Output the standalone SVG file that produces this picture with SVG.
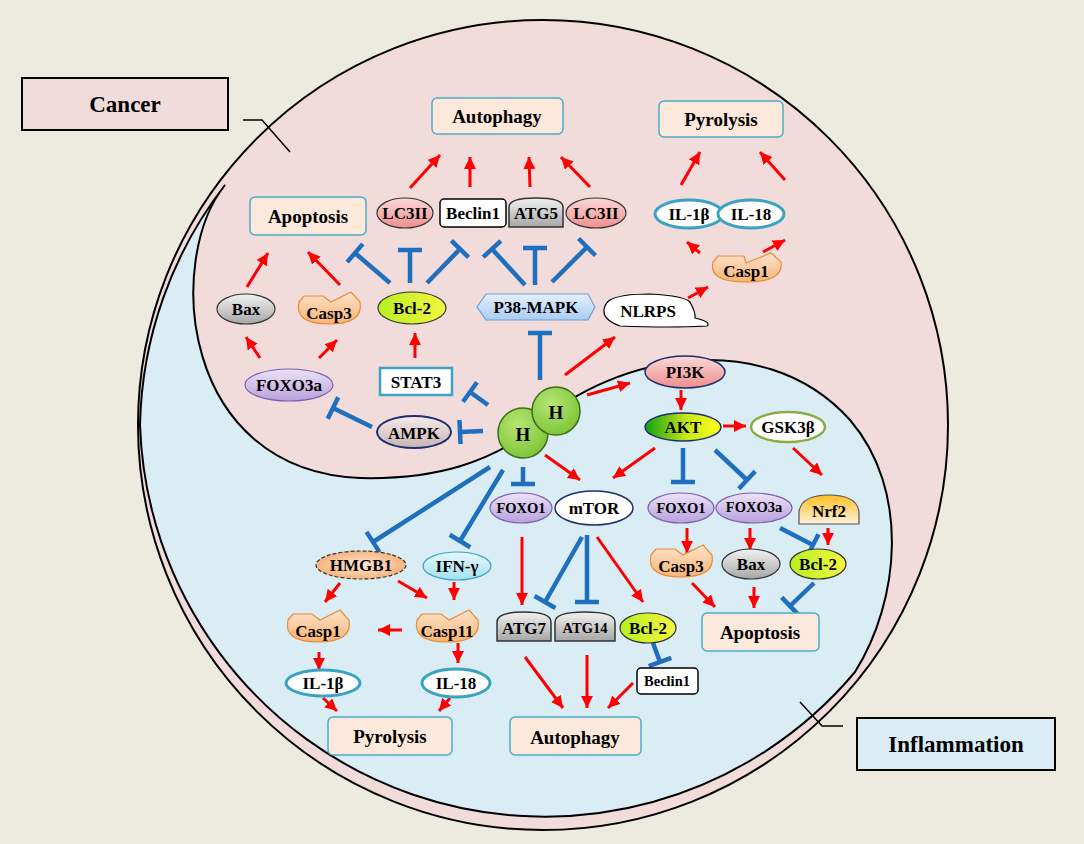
<svg xmlns="http://www.w3.org/2000/svg" width="1084" height="844" viewBox="0 0 1084 844">
<defs>
<marker id="ar" markerUnits="userSpaceOnUse" markerWidth="14" markerHeight="14" refX="12" refY="6" orient="auto"><path d="M0,0 L12,6 L0,12 Z" fill="#ff0000"/></marker>
<marker id="tb" markerUnits="userSpaceOnUse" markerWidth="6" markerHeight="26" refX="3" refY="13" orient="auto"><path d="M3,1 L3,25" stroke="#1f6fbf" stroke-width="4.5"/></marker>
<linearGradient id="gGray" x1="0" y1="0" x2="0" y2="1"><stop offset="0" stop-color="#f2f2f2"/><stop offset="1" stop-color="#a6a6a6"/></linearGradient>
<linearGradient id="gPink" x1="0" y1="0" x2="0" y2="1"><stop offset="0" stop-color="#fbd8d8"/><stop offset="1" stop-color="#f08e8e"/></linearGradient>
<linearGradient id="gPurp" x1="0" y1="0" x2="0" y2="1"><stop offset="0" stop-color="#ece3f7"/><stop offset="1" stop-color="#b9a0dc"/></linearGradient>
<linearGradient id="gOr" x1="0" y1="0" x2="0" y2="1"><stop offset="0" stop-color="#fde4cc"/><stop offset="1" stop-color="#f9b374"/></linearGradient>
<linearGradient id="gYG" x1="0" y1="0" x2="1" y2="0"><stop offset="0" stop-color="#b7f020"/><stop offset="1" stop-color="#f5f540"/></linearGradient>
<linearGradient id="gAKT" x1="0" y1="0" x2="1" y2="0"><stop offset="0" stop-color="#10a010"/><stop offset="0.55" stop-color="#c8e818"/><stop offset="1" stop-color="#ffff20"/></linearGradient>
<linearGradient id="gNrf" x1="0" y1="0" x2="0" y2="1"><stop offset="0" stop-color="#ffc020"/><stop offset="1" stop-color="#fbefdc"/></linearGradient>
<linearGradient id="gBlue" x1="0" y1="0" x2="0" y2="1"><stop offset="0" stop-color="#e4f0fc"/><stop offset="1" stop-color="#a9cdf2"/></linearGradient>
<linearGradient id="gIFN" x1="0" y1="0" x2="0" y2="1"><stop offset="0" stop-color="#e6f8fc"/><stop offset="1" stop-color="#a3e0f0"/></linearGradient>
<radialGradient id="gHM" cx="0.5" cy="0.5" r="0.6"><stop offset="0" stop-color="#fde9d9"/><stop offset="1" stop-color="#f6a86a"/></radialGradient>
<radialGradient id="gH" cx="0.4" cy="0.35" r="0.7"><stop offset="0" stop-color="#b6e673"/><stop offset="1" stop-color="#7cc436"/></radialGradient>
<linearGradient id="gAMPK" x1="0" y1="0" x2="0" y2="1"><stop offset="0" stop-color="#f6eaea"/><stop offset="1" stop-color="#c8b4b4"/></linearGradient>
</defs>
<style>
text{font-family:"Liberation Serif","Times New Roman",serif;font-weight:bold;fill:#000;text-anchor:middle;dominant-baseline:central;font-size:17px}
text.big{font-size:19px}
text.lab{font-size:23px}
text.sm{font-size:14.5px}
text.hh{font-size:19px}
.box{fill:#fce9dc;stroke:#4bacc6;stroke-width:1.5}
.r{stroke:#ff0000;stroke-width:3;fill:none;marker-end:url(#ar)}
.b{stroke:#1f6fbf;stroke-width:4.5;fill:none;marker-end:url(#tb)}
.el{stroke:#333;stroke-width:1.2}
.cyan{fill:#fff;stroke:#3aa3c2;stroke-width:3}
.casp{fill:url(#gOr);stroke:#e98a35;stroke-width:1.2}
.dome{fill:url(#gGray);stroke:#333;stroke-width:1.5}
</style>
<rect width="1084" height="844" fill="#edeae0"/>
<g id="background">
<circle cx="543" cy="425" r="405" fill="#f2dcdb" stroke="#000" stroke-width="2"/>
<path d="M530,432 C600,360 760,320 850,420 C910,490 900,600 855,672 A405,405 0 0 1 140,425 A405,405 0 0 1 225,185 C165,260 180,470 360,478 C440,480 490,460 530,432 Z" fill="#dbedf4" stroke="#000" stroke-width="2"/>
</g>
<g id="cancer-label">
<rect x="22" y="78" width="206" height="52" fill="#f2dcdb" stroke="#000" stroke-width="2"/>
<text class="lab" x="125" y="104">Cancer</text>
<path d="M243,120 L262,120 L290,152" fill="none" stroke="#000" stroke-width="1.5"/>
</g>
<g id="inflammation-label">
<rect x="857" y="718" width="198" height="52" fill="#dbedf4" stroke="#000" stroke-width="2"/>
<text class="lab" x="956" y="744">Inflammation</text>
<path d="M800,702 L822,726 L843,726" fill="none" stroke="#000" stroke-width="1.5"/>
</g>
<g id="connectors">
<path class="r" d="M410,188 L440,155"/><path class="r" d="M470,187 L470,157"/><path class="r" d="M530,187 L529,157"/><path class="r" d="M590,187 L561,157"/>
<path class="r" d="M681,185 L700,152"/><path class="r" d="M785,180 L760,152"/>
<path class="r" d="M700,253 L687,242"/><path class="r" d="M763,252 L785,240"/><path class="r" d="M688,298 L708,287"/>
<path class="r" d="M247,287 L268,253"/><path class="r" d="M340,285 L308,252"/>
<path class="r" d="M260,358 L246,337"/><path class="r" d="M319,358 L337,340"/><path class="r" d="M415,358 L415,333"/>
<path class="r" d="M565,375 L615,337"/><path class="r" d="M587,395 L630,383"/>
<path class="b" d="M390,283 L355,253"/><path class="b" d="M410,283 L410,250"/><path class="b" d="M427,283 L460,249"/>
<path class="b" d="M525,285 L492,249"/><path class="b" d="M535,285 L535,248"/><path class="b" d="M552,282 L587,247"/>
<path class="b" d="M540,380 L540,333"/><path class="b" d="M488,405 L470,392"/><path class="b" d="M483,431 L460,432"/><path class="b" d="M372,427 L333,408"/>
<path class="r" d="M545,455 L580,480"/><path class="r" d="M655,448 L613,478"/><path class="b" d="M523,467 L523,484"/>
<path class="r" d="M681,390 L681,410"/><path class="r" d="M723,426 L746,426"/>
<path class="b" d="M683,448 L683,482"/><path class="b" d="M715,450 L747,480"/><path class="r" d="M793,448 L822,475"/>
<path class="r" d="M687,528 L687,553"/><path class="r" d="M750,528 L750,550"/><path class="b" d="M780,528 L813,545"/><path class="r" d="M828,528 L828,545"/>
<path class="r" d="M692,583 L715,607"/><path class="r" d="M754,587 L754,608"/><path class="b" d="M814,583 L790,606"/>
<path class="r" d="M522,537 L522,605"/><path class="b" d="M582,537 L545,602"/><path class="b" d="M587,535 L587,602"/><path class="r" d="M597,537 L643,602"/>
<path class="b" d="M653,643 L660,662"/>
<path class="r" d="M525,657 L563,708"/><path class="r" d="M587,655 L587,708"/><path class="r" d="M633,683 L608,708"/>
<path class="b" d="M490,467 L373,542"/><path class="b" d="M503,470 L460,541"/>
<path class="r" d="M340,583 L325,602"/><path class="r" d="M398,581 L427,598"/><path class="r" d="M454,582 L454,600"/><path class="r" d="M402,630 L378,630"/>
<path class="r" d="M319,652 L319,670"/><path class="r" d="M458,643 L458,663"/>
<path class="r" d="M323,698 L337,711"/><path class="r" d="M450,698 L439,711"/>
</g>
<g id="autophagy-top"><rect class="box" x="432" y="98" width="131" height="36" rx="5"/><text class="big" x="497" y="116">Autophagy</text></g>
<g id="pyrolysis-top"><rect class="box" x="659" y="101" width="124" height="36" rx="5"/><text class="big" x="721" y="119">Pyrolysis</text></g>
<g id="apoptosis-top"><rect class="box" x="250" y="197" width="116" height="38" rx="5"/><text class="big" x="308" y="216">Apoptosis</text></g>
<g id="lc3ii-1"><ellipse class="el" cx="405" cy="213" rx="28" ry="15" fill="url(#gPink)"/><text x="405" y="213">LC3II</text></g>
<g id="beclin1-top"><rect x="440" y="199" width="66" height="28" rx="4" fill="#fff" stroke="#000" stroke-width="1.5"/><text x="473" y="213">Beclin1</text></g>
<g id="atg5"><path class="dome" d="M509,227 L509,207 Q509,198 536,198 Q563,198 563,207 L563,227 Z"/><text x="536" y="213">ATG5</text></g>
<g id="lc3ii-2"><ellipse class="el" cx="596" cy="213" rx="30" ry="15" fill="url(#gPink)"/><text x="596" y="213">LC3II</text></g>
<g id="il1b-top"><ellipse class="cyan" cx="689" cy="214" rx="34" ry="14"/><text x="689" y="214">IL-1β</text></g>
<g id="il18-top"><ellipse class="cyan" cx="751" cy="214" rx="33" ry="14"/><text x="751" y="214">IL-18</text></g>
<g id="casp1-top" transform="translate(746,268)"><path class="casp" d="M-33,-6 L-28,-12 L-2,-12 L0,-5 L25,-15 L35,-6 Q38,14 0,14 Q-38,14 -33,-6 Z"/><text y="3">Casp1</text></g>
<g id="bax-top"><ellipse class="el" cx="246" cy="309" rx="29" ry="15" fill="url(#gGray)"/><text x="246" y="309">Bax</text></g>
<g id="casp3-top" transform="translate(329,310)"><path class="casp" d="M-30,-8 L-25,-14 L-6,-14 L2,-8 L22,-18 L31,-8 Q35,14 0,14 Q-35,14 -30,-8 Z"/><text y="3">Casp3</text></g>
<g id="bcl2-top"><ellipse class="el" cx="412" cy="308" rx="34" ry="16" fill="url(#gYG)"/><text x="412" y="308">Bcl-2</text></g>
<g id="p38"><path d="M477,307 L486,294 L588,294 L595,307 L588,320 L486,320 Z" fill="url(#gBlue)" stroke="#6a9fd8" stroke-width="1.2"/><text x="536" y="307">P38-MAPK</text></g>
<g id="nlrps"><path d="M610,300 Q620,294 650,294 Q685,296 690,302 Q696,313 695,318 Q712,322 707,326 Q670,328 620,326 Q603,320 604,310 Q605,303 610,300 Z" fill="#fff" stroke="#000" stroke-width="1.2"/><text x="648" y="311">NLRPS</text></g>
<g id="foxo3a-top"><ellipse cx="289" cy="385" rx="44" ry="16" fill="url(#gPurp)" stroke="#7a5fb0" stroke-width="1.2"/><text x="289" y="385">FOXO3a</text></g>
<g id="stat3"><rect x="380" y="368" width="72" height="27" fill="#fff" stroke="#3aa3c2" stroke-width="2.5"/><text x="416" y="382">STAT3</text></g>
<g id="ampk"><ellipse cx="414" cy="432" rx="37" ry="16" fill="url(#gAMPK)" stroke="#1c2e6e" stroke-width="2"/><text x="414" y="433">AMPK</text></g>
<g id="h1"><circle cx="523" cy="433" r="25" fill="url(#gH)" stroke="#3d6b1a" stroke-width="1.5"/><text class="hh" x="523" y="434">H</text></g>
<g id="h2"><circle cx="556" cy="411" r="24" fill="url(#gH)" stroke="#3d6b1a" stroke-width="1.5"/><text class="hh" x="556" y="412">H</text></g>
<g id="pi3k"><ellipse cx="685" cy="372" rx="40" ry="16" fill="url(#gPink)" stroke="#1c2e6e" stroke-width="1.5"/><text x="685" y="372">PI3K</text></g>
<g id="akt"><ellipse cx="683" cy="427" rx="38" ry="14" fill="url(#gAKT)" stroke="#1c2e6e" stroke-width="1.5"/><text x="683" y="427">AKT</text></g>
<g id="gsk3b"><ellipse cx="788" cy="427" rx="37" ry="15" fill="#fff" stroke="#8aac46" stroke-width="2.5"/><text x="788" y="427">GSK3β</text></g>
<g id="foxo1-left"><ellipse cx="521" cy="508" rx="31" ry="15" fill="url(#gPurp)" stroke="#7a5fb0" stroke-width="1.2"/><text class="sm" x="521" y="508">FOXO1</text></g>
<g id="mtor"><ellipse cx="594" cy="508" rx="39" ry="17" fill="#fff" stroke="#1c2e6e" stroke-width="1.5"/><text x="594" y="508">mTOR</text></g>
<g id="foxo1-right"><ellipse cx="681" cy="508" rx="33" ry="15" fill="url(#gPurp)" stroke="#7a5fb0" stroke-width="1.2"/><text class="sm" x="681" y="508">FOXO1</text></g>
<g id="foxo3a-right"><ellipse cx="754" cy="508" rx="38" ry="15" fill="url(#gPurp)" stroke="#7a5fb0" stroke-width="1.2"/><text class="sm" x="754" y="507">FOXO3a</text></g>
<g id="nrf2"><path d="M799,524 L799,512 Q801,495 829,495 Q857,495 859,512 L859,524 Z" fill="url(#gNrf)" stroke="#555" stroke-width="1.2"/><text x="829" y="511">Nrf2</text></g>
<g id="casp3-right" transform="translate(681,563)"><path class="casp" d="M-30,-8 L-25,-14 L-6,-14 L2,-8 L22,-18 L31,-8 Q35,14 0,14 Q-35,14 -30,-8 Z"/><text y="3">Casp3</text></g>
<g id="bax-right"><ellipse class="el" cx="751" cy="564" rx="29" ry="15" fill="url(#gGray)"/><text x="751" y="564">Bax</text></g>
<g id="bcl2-right"><ellipse class="el" cx="818" cy="564" rx="28" ry="15" fill="url(#gYG)"/><text x="818" y="564">Bcl-2</text></g>
<g id="apoptosis-right"><rect class="box" x="702" y="613" width="117" height="38" rx="5"/><text class="big" x="760" y="632">Apoptosis</text></g>
<g id="hmgb1"><ellipse cx="361" cy="565" rx="45" ry="14" fill="url(#gHM)" stroke="#333" stroke-width="1.2" stroke-dasharray="4,2"/><text x="361" y="565">HMGB1</text></g>
<g id="ifng"><ellipse cx="457" cy="566" rx="34" ry="14" fill="url(#gIFN)" stroke="#3aa3c2" stroke-width="1.2"/><text x="457" y="566">IFN-γ</text></g>
<g id="casp1-left" transform="translate(318,628)"><path class="casp" d="M-30,-8 L-25,-14 L-6,-14 L2,-8 L22,-18 L31,-8 Q35,14 0,14 Q-35,14 -30,-8 Z"/><text y="3">Casp1</text></g>
<g id="casp11" transform="translate(447,628)"><path class="casp" d="M-30,-8 L-25,-14 L-6,-14 L2,-8 L22,-18 L31,-8 Q35,14 0,14 Q-35,14 -30,-8 Z"/><text y="3">Casp11</text></g>
<g id="atg7"><path class="dome" d="M497,641 L497,622 Q497,612 524,612 Q551,612 551,622 L551,641 Z"/><text x="524" y="628">ATG7</text></g>
<g id="atg14"><path class="dome" d="M555,641 L555,622 Q555,612 585,612 Q615,612 615,622 L615,641 Z"/><text class="sm" x="585" y="628">ATG14</text></g>
<g id="bcl2-mid"><ellipse class="el" cx="648" cy="628" rx="28" ry="15" fill="url(#gYG)"/><text x="648" y="628">Bcl-2</text></g>
<g id="beclin1-mid"><rect x="637" y="668" width="61" height="26" rx="4" fill="#fff" stroke="#000" stroke-width="1.5"/><text class="sm" x="667" y="681">Beclin1</text></g>
<g id="il1b-left"><ellipse class="cyan" cx="323" cy="683" rx="37" ry="13"/><text x="323" y="683">IL-1β</text></g>
<g id="il18-left"><ellipse class="cyan" cx="456" cy="683" rx="34" ry="14"/><text x="456" y="683">IL-18</text></g>
<g id="pyrolysis-bottom"><rect class="box" x="328" y="717" width="124" height="38" rx="5"/><text class="big" x="390" y="736">Pyrolysis</text></g>
<g id="autophagy-bottom"><rect class="box" x="510" y="717" width="131" height="38" rx="5"/><text class="big" x="575" y="737">Autophagy</text></g>
</svg>
